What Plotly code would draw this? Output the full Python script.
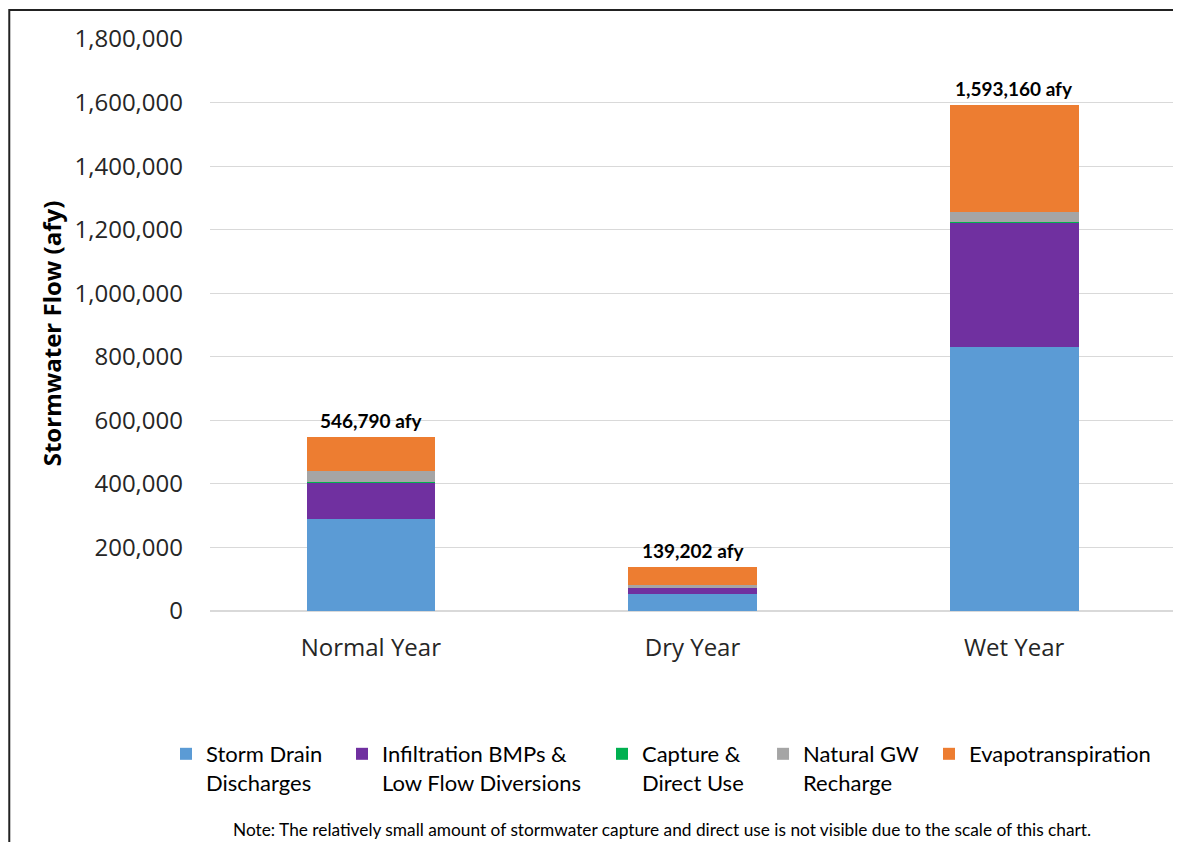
import plotly.graph_objects as go

# Kategorien und Werte (afy)
years = ["Normal Year", "Dry Year", "Wet Year"]
storm_drain = [289600, 53500, 831700]
infiltration = [113200, 19800, 390000]
capture = [2500, 600, 3500]
natural_gw = [36000, 8200, 31500]
evapotranspiration = [105490, 57102, 336460]

y_ticks = [0, 200000, 400000, 600000, 800000, 1000000, 1200000, 1400000, 1600000, 1800000]

series = [
    ("Storm Drain<br>Discharges", storm_drain, "#5B9BD5"),
    ("Infiltration BMPs &<br>Low Flow Diversions", infiltration, "#7030A0"),
    ("Capture &<br>Direct Use", capture, "#00B050"),
    ("Natural GW<br>Recharge", natural_gw, "#A5A5A5"),
    ("Evapotranspiration", evapotranspiration, "#ED7D31"),
]
# jede Legende einzeln platziert (wie im Excel-Original)
legend_x = [-0.0456, 0.1368, 0.4062, 0.5731, 0.7451]
legend_font = dict(family="Lato, sans-serif", size=22, color="#000")

fig = go.Figure()
for i, (name, vals, col) in enumerate(series):
    lg = "legend" if i == 0 else f"legend{i + 1}"
    fig.add_trace(go.Bar(x=years, y=vals, name=name, legend=lg,
                         marker=dict(color=col, line=dict(width=0))))

legends = {}
for i, lx in enumerate(legend_x):
    key = "legend" if i == 0 else f"legend{i + 1}"
    legends[key] = dict(orientation="h", x=lx, y=-0.2133, xanchor="left", yanchor="top",
                        valign="top", bgcolor="rgba(0,0,0,0)", font=legend_font)

# Summen ueber den Balken
totals = [sum(v) for v in zip(storm_drain, infiltration, capture, natural_gw, evapotranspiration)]
for yr, tot in zip(years, totals):
    fig.add_annotation(x=yr, y=tot, text=f"<b>{tot:,} afy</b>", showarrow=False,
                       yanchor="bottom", yshift=3,
                       font=dict(family="Lato, sans-serif", size=19, color="#000"))

# Achsentitel
fig.add_annotation(xref="paper", yref="paper", x=-0.1645, y=0.486, xanchor="center", yanchor="middle",
                   text="<b>Stormwater Flow (afy)</b>", textangle=-90, showarrow=False,
                   font=dict(family="Open Sans, sans-serif", size=24, color="#000"))

# Hinweis unten
fig.add_annotation(xref="paper", yref="paper", x=0.468, y=-0.4038, xanchor="center", yanchor="bottom",
                   text="Note: The relatively small amount of stormwater capture and direct use is not visible due to the scale of this chart.",
                   showarrow=False, font=dict(family="Lato, sans-serif", size=17.3, color="#000"))

# Rahmen (nur links und oben sichtbar)
fig.add_shape(type="path", xref="paper", yref="paper",
              path="M -0.208,-0.47 L -0.208,1.0507 L 1.0055,1.0507",
              line=dict(color="#222", width=2), layer="above")

fig.update_layout(
    barmode="stack",
    bargap=0.6,
    width=1173, height=834,
    margin=dict(l=202, r=6, t=31, b=231),
    plot_bgcolor="white", paper_bgcolor="white",
    showlegend=True,
    xaxis=dict(showgrid=False, ticks="", ticklabelstandoff=20,
               tickfont=dict(family="Open Sans, sans-serif", size=24, color="#262626")),
    yaxis=dict(range=[0, 1800000], tickvals=y_ticks, tickformat=",d",
               gridcolor="#D9D9D9", gridwidth=1, zeroline=True, zerolinecolor="#D9D9D9",
               ticks="", ticklabelstandoff=26,
               tickfont=dict(family="Open Sans, sans-serif", size=24, color="#262626")),
    **legends,
)

fig.write_html("out.html")
